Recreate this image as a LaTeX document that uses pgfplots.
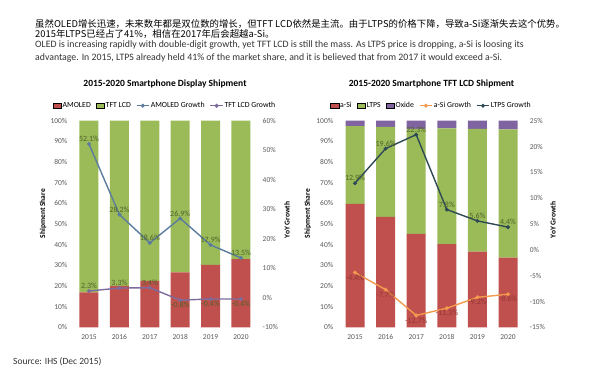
\documentclass[border=0pt]{standalone}
\usepackage{pgfplots}
\pgfplotsset{compat=1.18}
\usepackage{fontspec}
\setmainfont{Carlito}
\newfontfamily\cjk{Noto Sans CJK SC}
\definecolor{cred}{HTML}{C0504D}
\definecolor{cgreen}{HTML}{9BBB59}
\definecolor{cpurple}{HTML}{8064A2}
\definecolor{amoledline}{HTML}{5C7C9E}
\definecolor{tftline}{HTML}{7D6B9D}
\definecolor{ltpsline}{HTML}{2E4A55}
\definecolor{asiline}{HTML}{F39A4E}
\definecolor{labgreen}{HTML}{4F6228}
\definecolor{labred}{HTML}{943634}
\definecolor{tickgray}{HTML}{595959}
\definecolor{txtgray}{HTML}{333333}
\pgfplotsset{
  base/.style={
    scale only axis, width=182.4pt, height=206.6pt,
    xmin=-0.5, xmax=5.5, clip=false,
    axis line style={draw=none}, major tick length=0pt,
    /pgf/number format/assume math mode=true,
    ticklabel style={font=\fontsize{7.5}{9}\selectfont, text=tickgray},
    label style={font=\bfseries\fontsize{7.5}{9}\selectfont},
    title style={anchor=center, font=\bfseries\fontsize{9.5}{11}\selectfont},
  },
  prim/.style={
    ybar stacked, bar width=19pt, ymin=0, ymax=100, ytick={0,10,...,100},
    yticklabel={\pgfmathprintnumber{\tick}\%},
    yticklabel style={xshift=-3pt},
    xtick={0,...,5}, xticklabels={2015,2016,2017,2018,2019,2020},
    xticklabel style={yshift=-4pt},
    ylabel={Shipment Share},
  },
  sec/.style={
    axis y line*=right, axis x line=none,
    yticklabel={\pgfmathprintnumber{\tick}\%},
    yticklabel style={xshift=3pt},
    ylabel={YoY Growth},
    legend style={draw=none, fill=none,
      font=\fontsize{7.8}{9}\selectfont, inner sep=0pt,
      /tikz/every even column/.append style={column sep=3pt},
      /tikz/every odd column/.append style={column sep=-1pt}},
    nodes near coords={\pgfmathprintnumber[fixed,fixed zerofill,precision=1]{\pgfplotspointmeta}\%},
    every node near coord/.append style={font=\fontsize{8}{9}\selectfont, text=labgreen, inner sep=1.5pt},
  },
  gline/.style={line width=1.4pt, mark=*, mark size=1.2pt, point meta=y,
    legend image code/.code={\draw[##1, mark repeat=2, mark phase=2] plot coordinates {(0cm,0cm) (0.22cm,0cm) (0.44cm,0cm)};}},
  bleg/.style={legend image code/.code={\fill[##1] (0cm,-0.09cm) rectangle (0.3cm,0.09cm);}},
}
\begin{document}
\begin{tikzpicture}
\path[use as bounding box] (0,0) rectangle (600pt,375pt);
\node[anchor=west, inner sep=0] at (35pt,351pt) {\cjk\fontsize{9.4}{11}\selectfont 虽然OLED增长迅速，未来数年都是双位数的增长，但TFT LCD依然是主流。由于LTPS的价格下降，导致a-Si逐渐失去这个优势。};
\node[anchor=west, inner sep=0] at (35pt,340.5pt) {\cjk\fontsize{9.4}{11}\selectfont 2015年LTPS已经占了41\%，相信在2017年后会超越a-Si。};
\node[anchor=west, inner sep=0, text=txtgray] at (35pt,330pt) {\fontsize{9.8}{11}\selectfont OLED is increasing rapidly with double-digit growth, yet TFT LCD is still the mass. As LTPS price is dropping, a-Si is loosing its};
\node[anchor=west, inner sep=0, text=txtgray] at (35pt,317.5pt) {\fontsize{9.8}{11}\selectfont advantage. In 2015, LTPS already held 41\% of the market share, and it is believed that from 2017 it would exceed a-Si.};
\node[anchor=west, inner sep=0, text=txtgray] at (13pt,13pt) {\fontsize{9.5}{11}\selectfont Source: IHS (Dec 2015)};

% ---------- left chart ----------
\begin{axis}[base, prim, at={(73.8pt,47.7pt)}, anchor=south west,
  ylabel style={at={(axis description cs:-0.169,0.55)}, anchor=center},
  title={2015-2020 Smartphone Display Shipment},
  title style={at={(axis description cs:0.5,1.1486)}},
]
\addplot[fill=cred, draw=none] coordinates {(0,16.9) (1,20.0) (2,22.5) (3,26.6) (4,30.2) (5,33.0)};
\addplot[fill=cgreen, draw=none] coordinates {(0,83.1) (1,80.0) (2,77.5) (3,73.4) (4,69.8) (5,67.0)};
\end{axis}
\begin{axis}[base, sec, at={(73.8pt,47.7pt)}, anchor=south west,
  ymin=-10, ymax=60, ytick={-10,0,...,60},
  ylabel style={at={(axis description cs:1.169,0.52)}, anchor=center},
  legend columns=4,
  legend style={at={(axis description cs:0.5,1.0726)}, anchor=center},
]
\addlegendimage{bleg, fill=cred}
\addlegendimage{bleg, fill=cgreen}
\addplot[gline, color=amoledline] coordinates {(0,52.1) (1,28.2) (2,18.6) (3,26.9) (4,17.9) (5,13.5)};
\addplot[gline, color=tftline] coordinates {(0,2.3) (1,3.3) (2,3.4) (3,-0.8) (4,-0.4) (5,-0.4)};
\legend{AMOLED, TFT LCD, AMOLED Growth, TFT LCD Growth}
\end{axis}

% ---------- right chart ----------
\begin{axis}[base, prim, at={(339.7pt,47.7pt)}, anchor=south west, width=183.6pt,
  ylabel style={at={(axis description cs:-0.173,0.55)}, anchor=center},
  title={2015-2020 Smartphone TFT LCD Shipment},
  title style={at={(axis description cs:0.5,1.1486)}},
]
\addplot[fill=cred, draw=none] coordinates {(0,59.7) (1,53.5) (2,45.2) (3,40.3) (4,36.6) (5,33.7)};
\addplot[fill=cgreen, draw=none] coordinates {(0,37.7) (1,43.5) (2,50.8) (3,56.0) (4,59.4) (5,62.1)};
\addplot[fill=cpurple, draw=none] coordinates {(0,2.6) (1,3.0) (2,4.0) (3,3.7) (4,4.0) (5,4.2)};
\end{axis}
\begin{axis}[base, sec, at={(339.7pt,47.7pt)}, anchor=south west, width=183.6pt,
  ymin=-15, ymax=25, ytick={-15,-10,...,25},
  ylabel style={at={(axis description cs:1.162,0.52)}, anchor=center},
  legend columns=5,
  legend style={at={(axis description cs:0.5,1.0726)}, anchor=center},
]
\addlegendimage{bleg, fill=cred}
\addlegendimage{bleg, fill=cgreen}
\addlegendimage{bleg, fill=cpurple}
\addplot[gline, color=asiline, every node near coord/.append style={text=labred}] coordinates {(0,-4.4) (1,-7.7) (2,-12.7) (3,-11.3) (4,-9.2) (5,-8.6)};
\addplot[gline, color=ltpsline] coordinates {(0,12.9) (1,19.6) (2,22.3) (3,7.8) (4,5.6) (5,4.4)};
\legend{a-Si, LTPS, Oxide, a-Si Growth, LTPS Growth}
\end{axis}
\end{tikzpicture}
\end{document}
